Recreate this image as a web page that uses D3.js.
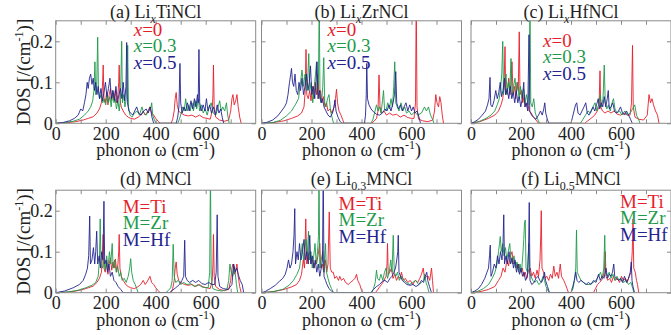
<!DOCTYPE html>
<html>
<head>
<meta charset="utf-8">
<script src="https://cdn.jsdelivr.net/npm/d3@7"></script>
<style>
  body { margin: 0; background: #fff; }
  svg text { font-family: "Liberation Serif", "Times New Roman", serif; fill: #222; }
</style>
</head>
<body>
<svg id="chart"></svg>
<script>
// ---- data: [frequency (cm-1), DOS] pairs ----
// Li_x TiNCl
var tiX0 = [[0,0],[40,0.001],[80,0.004],[110,0.008],[130,0.012],[150,0.016],[165,0.025],[175,0.035],[183,0.05],[187,0.09],[190,0.142],[193,0.06],[198,0.05],[204,0.075],[209,0.045],[214,0.07],[219,0.085],[224,0.055],[229,0.075],[234,0.06],[239,0.082],[244,0.05],[249,0.07],[252,0.1],[254,0.142],[257,0.06],[262,0.04],[270,0.03],[280,0.02],[290,0.015],[300,0.012],[315,0.01],[330,0.015],[340,0.02],[350,0.03],[358,0.02],[367,0.028],[377,0.04],[384,0.025],[392,0.02],[400,0.012],[410,0.005],[418,0],
  [462,0],[468,0.01],[474,0.03],[478,0.06],[482,0.075],[486,0.045],[492,0.03],[500,0.025],[515,0.02],[530,0.018],[545,0.02],[560,0.015],[575,0.02],[590,0.014],[605,0.012],[618,0.01],[626,0.03],[629,0.07],[631,0.142],[634,0.04],[640,0.015],[655,0.008],[675,0.005],[692,0.008],[700,0.03],[705,0.06],[709,0.07],[714,0.045],[720,0.055],[725,0.07],[730,0.04],[736,0.015],[742,0]];
var tiX3 = [[0,0],[40,0.002],[70,0.005],[95,0.01],[115,0.02],[130,0.03],[140,0.04],[148,0.055],[153,0.08],[157,0.15],[160,0.07],[164,0.09],[168,0.21],[171,0.08],[176,0.06],[182,0.07],[188,0.05],[194,0.06],[200,0.045],[206,0.07],[211,0.05],[217,0.065],[222,0.04],[228,0.08],[233,0.05],[238,0.06],[243,0.035],[249,0.055],[254,0.03],[259,0.06],[264,0.2],[267,0.05],[272,0.07],[277,0.04],[282,0.06],[286,0.12],[288,0.19],[291,0.04],[297,0.02],[305,0.015],[315,0.025],[325,0.03],[335,0.02],[345,0.04],[352,0.025],[362,0.02],[372,0.03],[380,0.035],[384,0.05],[388,0.02],[395,0.008],[402,0],
  [488,0],[495,0.01],[502,0.025],[508,0.04],[514,0.03],[520,0.06],[526,0.03],[532,0.045],[538,0.03],[545,0.05],[551,0.03],[558,0.055],[564,0.035],[570,0.06],[576,0.03],[583,0.045],[590,0.025],[598,0.035],[606,0.02],[614,0.04],[622,0.05],[630,0.025],[640,0.02],[648,0.035],[656,0.055],[662,0.03],[668,0.04],[676,0.03],[683,0.05],[688,0.02],[694,0]];
var tiX5 = [[0,0],[30,0.002],[55,0.006],[75,0.012],[90,0.02],[100,0.035],[108,0.03],[115,0.05],[121,0.07],[126,0.1],[130,0.085],[135,0.11],[140,0.12],[145,0.095],[150,0.11],[155,0.08],[160,0.1],[165,0.07],[170,0.09],[175,0.06],[181,0.085],[187,0.055],[193,0.075],[199,0.1],[205,0.065],[211,0.085],[217,0.11],[223,0.06],[229,0.08],[235,0.055],[241,0.09],[247,0.05],[253,0.07],[259,0.085],[265,0.06],[270,0.1],[276,0.055],[281,0.09],[284,0.197],[287,0.05],[293,0.03],[300,0.025],[308,0.02],[316,0.03],[324,0.04],[332,0.025],[342,0.02],[352,0.03],[362,0.035],[370,0.025],[378,0.04],[385,0.015],[392,0],
  [482,0],[488,0.015],[493,0.04],[497,0.146],[500,0.05],[506,0.025],[513,0.04],[520,0.03],[527,0.05],[534,0.03],[541,0.055],[548,0.035],[555,0.06],[561,0.04],[567,0.07],[570,0.05],[573,0.18],[576,0.05],[582,0.03],[590,0.045],[597,0.03],[603,0.06],[609,0.03],[616,0.045],[623,0.025],[631,0.04],[639,0.02],[646,0.045],[653,0.025],[660,0.035],[666,0.015],[672,0]];

// Li_x ZrNCl
var zrX0 = [[0,0],[50,0.002],[90,0.006],[120,0.012],[145,0.018],[160,0.025],[170,0.04],[175,0.08],[178,0.18],[181,0.07],[187,0.06],[193,0.08],[198,0.055],[204,0.09],[209,0.06],[215,0.1],[220,0.07],[226,0.12],[230,0.06],[236,0.08],[242,0.05],[248,0.065],[254,0.04],[260,0.05],[266,0.03],[274,0.035],[282,0.025],[290,0.04],[296,0.06],[300,0.083],[304,0.05],[310,0.03],[318,0.02],[324,0.01],[330,0],
  [440,0],[450,0.005],[460,0.012],[466,0.03],[470,0.118],[474,0.04],[480,0.025],[490,0.03],[500,0.02],[512,0.025],[525,0.02],[540,0.022],[555,0.015],[570,0.02],[585,0.014],[600,0.012],[610,0.012],[616,0.05],[619,0.3],[622,0.04],[628,0.01],[645,0.006],[665,0.004],[685,0.008],[692,0.03],[697,0.07],[702,0.05],[708,0.04],[713,0.065],[718,0.05],[723,0.02],[728,0]];
var zrX3 = [[0,0],[45,0.002],[75,0.007],[100,0.018],[120,0.03],[135,0.045],[148,0.06],[156,0.1],[162,0.13],[168,0.09],[174,0.12],[180,0.08],[185,0.11],[189,0.17],[193,0.08],[199,0.1],[205,0.05],[211,0.09],[216,0.12],[220,0.15],[224,0.07],[228,0.12],[231,0.3],[234,0.06],[240,0.05],[245,0.09],[249,0.16],[253,0.05],[258,0.04],[264,0.06],[270,0.07],[276,0.03],[282,0.015],[288,0],
  [438,0],[446,0.01],[454,0.03],[460,0.045],[466,0.03],[472,0.04],[478,0.025],[484,0.055],[488,0.08],[492,0.035],[498,0.03],[505,0.05],[512,0.035],[518,0.06],[524,0.04],[529,0.09],[533,0.15],[537,0.05],[543,0.04],[550,0.03],[558,0.05],[565,0.03],[573,0.04],[580,0.025],[590,0.03],[600,0.02],[612,0.028],[625,0.02],[640,0.025],[652,0.04],[660,0.03],[668,0.04],[676,0.02],[684,0.01],[690,0]];
var zrX5 = [[0,0],[20,0.002],[45,0.008],[65,0.018],[80,0.03],[92,0.04],[100,0.05],[106,0.07],[112,0.1],[117,0.12],[120,0.134],[124,0.1],[129,0.09],[134,0.12],[139,0.08],[145,0.07],[150,0.1],[156,0.08],[162,0.11],[168,0.07],[174,0.09],[180,0.12],[186,0.08],[191,0.1],[196,0.14],[201,0.07],[207,0.09],[213,0.06],[218,0.1],[222,0.15],[226,0.06],[232,0.08],[238,0.05],[244,0.06],[250,0.04],[258,0.03],[266,0.02],[275,0.015],[284,0.025],[290,0.04],[294,0.057],[298,0.03],[306,0.015],[314,0.005],[322,0],
  [412,0],[416,0.02],[419,0.07],[421,0.146],[424,0.06],[430,0.045],[438,0.035],[448,0.028],[460,0.022],[472,0.02],[484,0.025],[494,0.035],[502,0.03],[510,0.045],[518,0.03],[526,0.05],[532,0.07],[537,0.126],[541,0.05],[548,0.035],[556,0.045],[563,0.03],[570,0.04],[578,0.05],[585,0.03],[593,0.045],[600,0.03],[607,0.04],[614,0.025],[622,0.03],[630,0.015],[636,0]];

// Li_x HfNCl
var hfX0 = [[0,0],[35,0.004],[70,0.012],[95,0.02],[110,0.03],[120,0.045],[127,0.06],[132,0.09],[136,0.187],[139,0.07],[145,0.08],[151,0.11],[156,0.07],[160,0.1],[164,0.15],[168,0.07],[174,0.09],[179,0.06],[184,0.1],[189,0.08],[193,0.223],[196,0.07],[202,0.08],[207,0.05],[213,0.07],[219,0.04],[226,0.05],[233,0.03],[241,0.025],[250,0.015],[260,0.008],[270,0],
  [455,0],[465,0.005],[480,0.012],[495,0.02],[505,0.03],[512,0.04],[516,0.128],[519,0.04],[526,0.03],[536,0.025],[548,0.03],[560,0.025],[572,0.03],[585,0.022],[598,0.02],[612,0.025],[625,0.02],[636,0.02],[642,0.05],[646,0.19],[649,0.04],[656,0.015],[670,0.01],[690,0.008],[705,0.02],[712,0.07],[718,0.05],[724,0.06],[730,0.045],[738,0.03],[746,0.02],[752,0]];
var hfX3 = [[0,0],[35,0.005],[60,0.012],[80,0.02],[95,0.03],[105,0.045],[113,0.06],[119,0.09],[123,0.12],[127,0.2],[130,0.07],[135,0.1],[140,0.12],[145,0.07],[150,0.1],[155,0.08],[160,0.158],[164,0.07],[170,0.09],[176,0.11],[181,0.07],[187,0.1],[192,0.06],[198,0.09],[204,0.06],[210,0.085],[216,0.05],[222,0.07],[228,0.045],[233,0.1],[236,0.3],[239,0.05],[245,0.04],[251,0.06],[257,0.025],[265,0.012],[274,0],
  [438,0],[448,0.01],[458,0.02],[468,0.03],[478,0.025],[488,0.04],[496,0.05],[503,0.03],[510,0.045],[517,0.07],[522,0.04],[528,0.06],[533,0.142],[537,0.05],[543,0.035],[550,0.045],[557,0.03],[564,0.05],[570,0.06],[576,0.035],[584,0.025],[594,0.03],[604,0.02],[615,0.03],[626,0.02],[637,0.025],[646,0.035],[655,0.045],[662,0.02],[670,0.01],[676,0]];
var hfX5 = [[0,0],[15,0.004],[30,0.01],[45,0.02],[58,0.03],[66,0.045],[72,0.06],[76,0.112],[79,0.045],[85,0.04],[92,0.055],[99,0.08],[105,0.06],[111,0.075],[117,0.1],[122,0.065],[128,0.08],[134,0.11],[139,0.07],[145,0.085],[151,0.06],[157,0.09],[163,0.06],[169,0.075],[175,0.05],[181,0.08],[187,0.05],[193,0.065],[199,0.04],[205,0.06],[211,0.1],[215,0.04],[221,0.05],[227,0.03],[232,0.216],[235,0.03],[242,0.02],[250,0.015],[260,0.01],[270,0.02],[278,0.03],[285,0.02],[291,0.035],[295,0.05],[299,0.025],[306,0.008],[312,0],
  [400,0],[406,0.015],[412,0.03],[418,0.045],[423,0.05],[428,0.025],[436,0.02],[444,0.03],[452,0.04],[459,0.05],[465,0.025],[472,0.02],[480,0.03],[488,0.04],[495,0.03],[502,0.045],[509,0.06],[515,0.035],[521,0.05],[527,0.04],[533,0.065],[539,0.04],[545,0.06],[549,0.08],[553,0.035],[560,0.04],[567,0.05],[574,0.03],[582,0.025],[590,0.03],[598,0.04],[606,0.025],[614,0.02],[622,0.03],[630,0.02],[638,0.01],[645,0]];

// Li0.3 MNCl
var tiLi3 = [[0,0],[50,0.003],[90,0.008],[120,0.014],[140,0.02],[152,0.03],[160,0.045],[167,0.08],[172,0.06],[177,0.18],[181,0.07],[187,0.09],[193,0.1],[199,0.07],[205,0.08],[211,0.06],[216,0.075],[220,0.07],[226,0.09],[233,0.12],[237,0.06],[243,0.07],[249,0.05],[255,0.08],[261,0.05],[266,0.07],[271,0.197],[275,0.06],[281,0.05],[287,0.05],[293,0.035],[300,0.04],[308,0.03],[313,0.04],[320,0.03],[328,0.035],[336,0.025],[347,0.02],[356,0.025],[366,0.03],[374,0.035],[380,0.045],[385,0.03],[393,0.02],[399,0.008],[405,0],
  [455,0],[462,0.005],[470,0.012],[480,0.02],[490,0.03],[498,0.04],[502,0.07],[504,0.12],[507,0.045],[513,0.05],[520,0.06],[526,0.035],[533,0.045],[540,0.03],[547,0.04],[554,0.035],[560,0.05],[567,0.03],[575,0.035],[585,0.025],[595,0.03],[605,0.02],[615,0.03],[625,0.025],[633,0.035],[640,0.045],[647,0.06],[652,0.035],[660,0.04],[667,0.04],[673,0.03],[680,0.06],[684,0.03],[688,0]];
var zrLi3 = [[0,0],[50,0.003],[85,0.008],[110,0.018],[128,0.03],[142,0.045],[152,0.06],[158,0.09],[163,0.12],[168,0.08],[173,0.11],[178,0.13],[183,0.09],[188,0.15],[192,0.08],[198,0.1],[203,0.06],[209,0.09],[214,0.12],[219,0.07],[224,0.1],[228,0.14],[230,0.3],[233,0.06],[239,0.08],[245,0.1],[250,0.05],[256,0.12],[260,0.05],[266,0.035],[273,0.02],[280,0.01],[288,0],
  [440,0],[448,0.01],[455,0.025],[460,0.055],[464,0.035],[471,0.03],[478,0.045],[485,0.03],[492,0.05],[498,0.06],[504,0.035],[511,0.05],[517,0.08],[522,0.05],[527,0.14],[531,0.05],[537,0.04],[544,0.05],[551,0.03],[560,0.04],[570,0.03],[580,0.025],[592,0.02],[605,0.025],[617,0.03],[628,0.02],[640,0.025],[648,0.03],[653,0.045],[658,0.025],[664,0.015],[670,0]];
var hfLi3 = [[0,0],[15,0.003],[35,0.01],[55,0.018],[72,0.028],[85,0.035],[95,0.045],[102,0.06],[108,0.08],[114,0.06],[120,0.07],[126,0.1],[130,0.14],[133,0.205],[136,0.07],[142,0.1],[147,0.08],[152,0.12],[158,0.08],[164,0.1],[170,0.13],[175,0.08],[181,0.1],[187,0.07],[193,0.14],[197,0.07],[203,0.09],[209,0.06],[215,0.08],[221,0.05],[227,0.07],[233,0.04],[239,0.06],[244,0.08],[247,0.3],[250,0.04],[256,0.03],[262,0.02],[270,0.01],[280,0.004],[288,0],
  [438,0],[448,0.008],[460,0.015],[472,0.02],[484,0.028],[494,0.03],[504,0.025],[514,0.035],[522,0.04],[530,0.05],[536,0.06],[541,0.08],[545,0.1],[547,0.14],[550,0.05],[556,0.04],[563,0.03],[572,0.025],[582,0.02],[594,0.018],[606,0.02],[618,0.015],[630,0.02],[640,0.03],[648,0.025],[655,0.04],[661,0.05],[665,0.03],[672,0.015],[680,0]];

// Li0.5 MNCl
var tiLi5 = [[0,0],[40,0.003],[70,0.008],[95,0.015],[110,0.03],[120,0.04],[128,0.06],[136,0.05],[144,0.08],[150,0.065],[158,0.09],[164,0.1],[170,0.07],[177,0.075],[184,0.06],[191,0.07],[198,0.05],[205,0.06],[211,0.04],[217,0.05],[223,0.035],[230,0.055],[237,0.06],[243,0.04],[250,0.05],[257,0.035],[264,0.055],[270,0.04],[276,0.08],[279,0.14],[281,0.2],[284,0.06],[290,0.05],[296,0.035],[303,0.04],[311,0.03],[318,0.045],[325,0.035],[331,0.065],[337,0.04],[344,0.05],[350,0.035],[357,0.07],[362,0.04],[371,0.03],[378,0.02],[384,0.01],[390,0],
  [490,0],[498,0.01],[506,0.02],[514,0.025],[522,0.03],[530,0.04],[534,0.06],[537,0.1],[540,0.04],[547,0.03],[555,0.035],[562,0.025],[570,0.04],[578,0.03],[586,0.035],[594,0.025],[602,0.04],[610,0.03],[618,0.035],[625,0.025],[633,0.04],[640,0.05],[645,0.1],[648,0.18],[651,0.06],[657,0.05],[662,0.03],[666,0.02],[671,0]];
var zrLi5 = [[0,0],[25,0.003],[50,0.01],[70,0.02],[85,0.035],[96,0.05],[104,0.07],[110,0.1],[114,0.12],[117,0.137],[121,0.1],[127,0.12],[132,0.09],[138,0.11],[143,0.08],[149,0.1],[155,0.12],[160,0.08],[166,0.07],[172,0.09],[178,0.06],[184,0.075],[190,0.05],[196,0.07],[202,0.05],[207,0.09],[211,0.13],[214,0.17],[217,0.177],[220,0.06],[226,0.05],[231,0.12],[234,0.05],[240,0.04],[247,0.03],[255,0.025],[263,0.03],[271,0.02],[280,0.025],[288,0.04],[294,0.03],[300,0.015],[308,0.005],[314,0],
  [400,0],[408,0.01],[414,0.03],[419,0.06],[422,0.153],[425,0.05],[432,0.04],[440,0.03],[450,0.025],[462,0.02],[475,0.02],[488,0.025],[500,0.03],[510,0.04],[518,0.05],[525,0.035],[531,0.06],[535,0.14],[538,0.05],[545,0.04],[553,0.05],[560,0.035],[568,0.045],[575,0.03],[584,0.04],[592,0.03],[600,0.035],[610,0.025],[620,0.03],[630,0.02],[640,0.025],[647,0.01],[652,0]];
var hfLi5 = [[0,0],[15,0.004],[30,0.01],[42,0.02],[55,0.035],[64,0.05],[70,0.06],[74,0.09],[77,0.116],[80,0.04],[86,0.05],[93,0.07],[100,0.06],[106,0.09],[112,0.07],[118,0.1],[124,0.08],[128,0.12],[131,0.19],[134,0.07],[140,0.09],[146,0.07],[152,0.1],[158,0.07],[164,0.085],[170,0.06],[176,0.08],[182,0.05],[188,0.07],[194,0.045],[200,0.06],[206,0.04],[212,0.05],[218,0.03],[226,0.04],[230,0.1],[233,0.22],[236,0.03],[243,0.02],[252,0.025],[260,0.035],[268,0.04],[275,0.03],[282,0.025],[289,0.035],[294,0.05],[298,0.03],[306,0.015],[314,0],
  [400,0],[407,0.015],[413,0.03],[419,0.05],[424,0.03],[431,0.025],[440,0.03],[450,0.025],[460,0.02],[470,0.025],[480,0.02],[490,0.03],[500,0.025],[510,0.045],[517,0.03],[524,0.04],[532,0.035],[540,0.06],[546,0.035],[553,0.045],[560,0.04],[566,0.05],[571,0.07],[575,0.04],[582,0.035],[590,0.03],[598,0.035],[606,0.025],[614,0.04],[622,0.025],[630,0.035],[637,0.05],[641,0.075],[644,0.03],[648,0.015],[654,0]];

var xTicks = [0,100,200,300,400,500,600,700];
var yTicks = [0,0.1,0.2];
var xLegend = ["0","0.3","0.5"];
var mLegend = ["Ti","Zr","Hf"];
var colors = ["#e61e2b","#1e9a4b","#23248f"];

var panels = [
  {id:"a", title:[{t:"(a) Li"},{t:"x",sub:1,it:1},{t:"TiNCl"}], series:[tiX0,tiX3,tiX5], leg:"x", col:0, row:0, lx:78, ly:36},
  {id:"b", title:[{t:"(b) Li"},{t:"x",sub:1,it:1},{t:"ZrNCl"}], series:[zrX0,zrX3,zrX5], leg:"x", col:1, row:0, lx:66, ly:36},
  {id:"c", title:[{t:"(c) Li"},{t:"x",sub:1,it:1},{t:"HfNCl"}], series:[hfX0,hfX3,hfX5], leg:"x", col:2, row:0, lx:72, ly:47},
  {id:"d", title:[{t:"(d) MNCl"}], series:[tiX0,zrX0,hfX0], leg:"m", col:0, row:1, lx:67, ly:213},
  {id:"e", title:[{t:"(e) Li"},{t:"0.3",sub:1},{t:"MNCl"}], series:[tiLi3,zrLi3,hfLi3], leg:"m", col:1, row:1, lx:77, ly:210},
  {id:"f", title:[{t:"(f) Li"},{t:"0.5",sub:1},{t:"MNCl"}], series:[tiLi5,zrLi5,hfLi5], leg:"m", col:2, row:1, lx:149, ly:208}
];

var width = 671, height = 335;
var lefts = [55.7, 261.5, 471];
var tops = [20.8, 190.2];
var pw = 200, ph = 102.5;
var FONT = "'Liberation Serif', 'Times New Roman', serif";

var svg = d3.select("#chart").attr("width", width).attr("height", height);

// text with sub / superscripts
function richText(sel, parts) {
  var shift = 0;
  sel.attr("font-family", FONT);
  parts.forEach(function(p){
    var s = sel.append("tspan").text(p.t);
    var target = p.sub ? 5 : (p.sup ? -7 : 0);
    if (target !== shift) { s.attr("dy", target - shift); shift = target; }
    if (p.sub || p.sup) s.attr("font-size", "12px");
    if (p.it) s.attr("font-style", "italic");
  });
  return sel;
}

panels.forEach(function(p){
  var x0 = lefts[p.col], y0 = tops[p.row];
  var g = svg.append("g").attr("transform", "translate(" + x0 + "," + y0 + ")");

  var x = d3.scaleLinear().domain([0, 800]).range([0, pw]);
  var y = d3.scaleLinear().domain([0, 0.25]).range([ph, 0]);

  g.append("clipPath").attr("id", "clip" + p.id)
    .append("rect").attr("width", pw).attr("height", ph);

  var line = d3.line().x(function(d){ return x(d[0]); }).y(function(d){ return y(d[1]); });

  var plot = g.append("g").attr("clip-path", "url(#clip" + p.id + ")");
  p.series.forEach(function(s, i){
    plot.append("path").datum(s)
      .attr("d", line)
      .attr("fill", "none")
      .attr("stroke", colors[i])
      .attr("stroke-width", 0.9)
      .attr("stroke-linejoin", "round");
  });

  // frame + inward ticks on all four sides
  g.append("rect").attr("width", pw).attr("height", ph)
    .attr("fill", "none").attr("stroke", "#8a8a8a").attr("stroke-width", 1);

  var xb = g.append("g").attr("transform", "translate(0," + ph + ")")
    .call(d3.axisBottom(x).tickValues(xTicks).tickSize(-4).tickPadding(4)
      .tickFormat(function(d){ return d % 200 === 0 ? d : ""; }));
  var xt = g.append("g").call(d3.axisTop(x).tickValues(xTicks).tickSize(-4).tickFormat(""));
  var yl = g.append("g").call(d3.axisLeft(y).tickValues(yTicks).tickSize(-4).tickPadding(3)
      .tickFormat(function(d){ return p.col === 0 ? (d === 0 ? "0" : d3.format(".1f")(d)) : ""; }));
  var yr = g.append("g").attr("transform", "translate(" + pw + ",0)")
    .call(d3.axisRight(y).tickValues(yTicks).tickSize(-4).tickFormat(""));
  [xb, xt, yl, yr].forEach(function(a){
    a.attr("font-family", FONT);
    a.select(".domain").remove();
    a.selectAll(".tick line").attr("stroke", "#8a8a8a");
    a.selectAll(".tick text").filter(function(){ return this.textContent === ""; }).remove();
    a.selectAll("text").attr("font-size", "18px").attr("fill", "#222");
  });

  // title
  richText(g.append("text").attr("x", pw / 2).attr("y", p.row === 0 ? -3 : -5)
    .attr("text-anchor", "middle").attr("font-size", "18px"), p.title);

  // x axis label
  richText(g.append("text").attr("x", pw / 2).attr("y", ph + 33)
    .attr("text-anchor", "middle").attr("font-size", "18px"),
    [{t:"phonon \u03c9 (cm"},{t:"-1",sup:1},{t:")"}]);

  // y axis label on the first column
  if (p.col === 0) {
    richText(g.append("text")
      .attr("transform", "translate(-26," + (ph / 2) + ") rotate(-90)")
      .attr("text-anchor", "middle").attr("font-size", "19px"),
      [{t:"DOS [/(cm"},{t:"-1",sup:1},{t:")]"}]);
  }

  // legend
  var labels = p.leg === "x" ? xLegend : mLegend;
  labels.forEach(function(l, i){
    var t = svg.append("text")
      .attr("x", x0 + p.lx).attr("y", p.ly + i * 16.3)
      .attr("font-size", "19px");
    var parts = p.leg === "x" ? [{t:"x",it:1},{t:"=" + l}] : [{t:"M=" + l}];
    richText(t, parts);
    t.selectAll("tspan").style("fill", colors[i]);
  });
});
</script>
</body>
</html>
